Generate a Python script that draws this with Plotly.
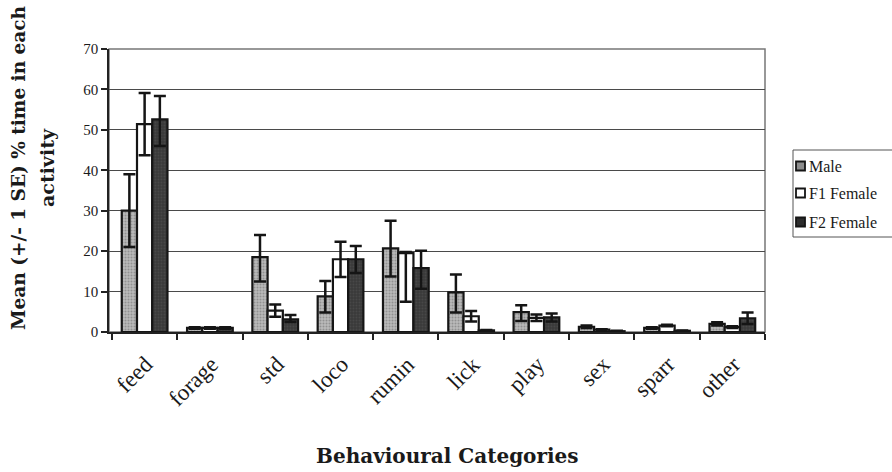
import plotly.graph_objects as go

# Behavioural time budgets: mean % time per activity with +/- 1 SE
categories = ["feed", "forage", "std", "loco", "rumin", "lick", "play", "sex", "sparr", "other"]

male = [30.0, 1.0, 18.5, 8.8, 20.7, 9.8, 4.9, 1.3, 1.0, 2.0]
male_se_up = [9.0, 0.2, 5.5, 3.8, 6.8, 4.4, 1.7, 0.3, 0.2, 0.4]
male_se_down = [9.0, 0.2, 6.0, 4.0, 7.0, 5.0, 2.2, 0.3, 0.2, 0.4]

f1_female = [51.4, 1.0, 5.3, 18.0, 19.5, 3.9, 3.5, 0.6, 1.6, 1.2]
f1_se_up = [7.7, 0.2, 1.5, 4.3, 0.3, 1.3, 0.8, 0.1, 0.2, 0.2]
f1_se_down = [7.7, 0.2, 1.5, 4.4, 12.0, 1.3, 0.8, 0.1, 0.2, 0.2]

f2_female = [52.6, 1.0, 3.1, 18.0, 15.8, 0.4, 3.6, 0.2, 0.3, 3.4]
f2_se_up = [5.8, 0.2, 1.1, 3.3, 4.3, 0.1, 1.0, 0.1, 0.1, 1.4]
f2_se_down = [6.6, 0.2, 0.6, 3.4, 5.1, 0.1, 1.0, 0.1, 0.1, 1.4]

series_names = ["Male", "F1 Female", "F2 Female"]
y_ticks = [0, 10, 20, 30, 40, 50, 60, 70]

SERIF = "Liberation Serif, DejaVu Serif, serif"
SERIF_WIDE = "DejaVu Serif, Liberation Serif, serif"
INK = "#1a1a1a"

# plot area in pixels, used to place the hand-drawn legend and titles
W, H = 892, 472
L, R, T, B = 109, 127, 49, 140
PW, PH = W - L - R, H - T - B


def px_x(px):
    return (px - L) / PW


def px_y(py):
    return (H - B - py) / PH


def err(up, down):
    return dict(type="data", symmetric=False, array=up, arrayminus=down,
                color="#151515", thickness=2.5, width=6)


fig = go.Figure()
fig.add_trace(go.Bar(
    name=series_names[0], x=categories, y=male, error_y=err(male_se_up, male_se_down),
    marker=dict(color="#b9b9b9", line=dict(color="#151515", width=2.2),
                pattern=dict(shape=".", fgcolor="#6a6a6a", size=3, solidity=0.35)),
))
fig.add_trace(go.Bar(
    name=series_names[1], x=categories, y=f1_female, error_y=err(f1_se_up, f1_se_down),
    marker=dict(color="#ffffff", line=dict(color="#151515", width=2.2)),
))
fig.add_trace(go.Bar(
    name=series_names[2], x=categories, y=f2_female, error_y=err(f2_se_up, f2_se_down),
    marker=dict(color="#3a3a3a", line=dict(color="#151515", width=2.2),
                pattern=dict(shape=".", fgcolor="#555555", size=3, solidity=0.3)),
))

# category labels, rotated, ending just right of each group's centre
for c in categories:
    fig.add_annotation(x=c, y=px_y(349), xref="x", yref="paper", text=c,
                       textangle=-45, showarrow=False, xanchor="right", yanchor="top",
                       xshift=16,
                       font=dict(family=SERIF, size=23, color=INK))

# axis titles
fig.add_annotation(x=px_x(18), y=px_y(168), xref="paper", yref="paper",
                   text="<b>Mean (+/- 1 SE) % time in each</b>",
                   textangle=-90, showarrow=False, xanchor="center", yanchor="middle",
                   font=dict(family=SERIF_WIDE, size=18.5, color=INK))
fig.add_annotation(x=px_x(47), y=px_y(168), xref="paper", yref="paper",
                   text="<b>activity</b>",
                   textangle=-90, showarrow=False, xanchor="center", yanchor="middle",
                   font=dict(family=SERIF_WIDE, size=19, color=INK))
fig.add_annotation(x=px_x(447), y=px_y(456), xref="paper", yref="paper",
                   text="<b>Behavioural Categories</b>", showarrow=False,
                   xanchor="center", yanchor="middle",
                   font=dict(family=SERIF_WIDE, size=20, color=INK))

# plot frame (top and right edges)
fig.add_shape(type="rect", xref="paper", yref="paper", x0=0, x1=1, y0=0, y1=1,
              line=dict(color="#777777", width=1.5), layer="below")

# legend box with swatches
fig.add_shape(type="rect", xref="paper", yref="paper",
              x0=px_x(793), x1=px_x(905), y0=px_y(237), y1=px_y(150),
              line=dict(color="#555555", width=1), fillcolor="white")
swatch_fill = ["#8c8c8c", "#ffffff", "#2c2c2c"]
legend_rows = [166, 193, 222]
for name, fill, cy in zip(series_names, swatch_fill, legend_rows):
    fig.add_shape(type="rect", xref="paper", yref="paper",
                  x0=px_x(796), x1=px_x(805), y0=px_y(cy + 4.5), y1=px_y(cy - 4.5),
                  line=dict(color="#151515", width=1.8), fillcolor=fill)
    fig.add_annotation(x=px_x(807), y=px_y(cy), xref="paper", yref="paper",
                       text=name, showarrow=False, xanchor="left", yanchor="middle",
                       font=dict(family=SERIF, size=16, color=INK))

fig.update_layout(
    width=W, height=H,
    margin=dict(l=L, r=R, t=T, b=B),
    paper_bgcolor="white", plot_bgcolor="white",
    barmode="group", bargap=0.3, bargroupgap=0,
    font=dict(family=SERIF, color=INK),
    showlegend=False,
)
fig.update_xaxes(type="category", showticklabels=False, tickson="boundaries",
                 ticks="outside", ticklen=6, tickwidth=1.5, tickcolor="#222222",
                 showline=True, linecolor="#222222", linewidth=1.5,
                 showgrid=False)
fig.update_yaxes(range=[0, 70], tickvals=y_ticks, ticks="outside", ticklen=6,
                 tickwidth=1.5, tickcolor="#222222",
                 tickfont=dict(family=SERIF, size=15, color=INK),
                 showline=True, linecolor="#222222", linewidth=1.5,
                 showgrid=True, gridcolor="#4a4a4a", gridwidth=1.3, zeroline=False)

fig.write_html("out.html")
